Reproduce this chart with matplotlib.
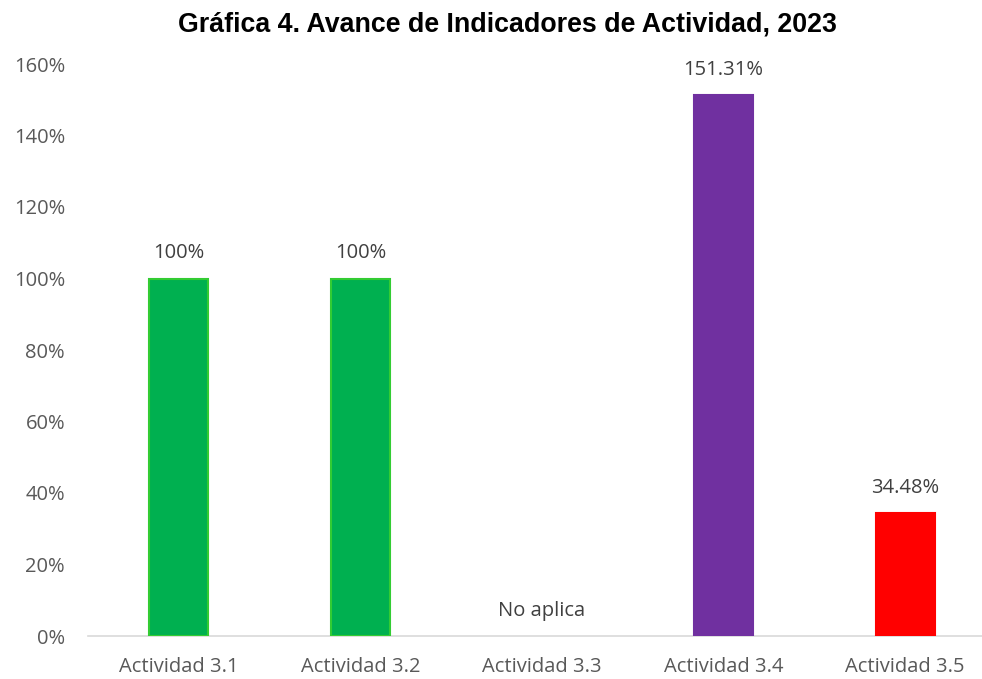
import matplotlib.pyplot as plt
from matplotlib.ticker import PercentFormatter

categories = ["Actividad 3.1", "Actividad 3.2", "Actividad 3.3", "Actividad 3.4", "Actividad 3.5"]
values = [100, 100, 0, 151.31, 34.48]
labels = ["100%", "100%", "No aplica", "151.31%", "34.48%"]
colors = ["#00b050", "#00b050", "#00b050", "#7030a0", "#ff0000"]
edges = ["#33cc33", "#33cc33", "none", "#7030a0", "#ff0000"]

plt.rcParams['font.family'] = ['Open Sans', 'DejaVu Sans']

fig = plt.figure(figsize=(9.82, 6.79), dpi=100)
ax = fig.add_axes([88 / 982, 43 / 679, 908 / 982, 572 / 679])

x = range(len(categories))
ax.bar(x, values, width=0.325, color=colors, edgecolor=edges, linewidth=1.5, zorder=3)

for i, (v, lab) in enumerate(zip(values, labels)):
    ax.text(i, v + 4.2, lab, ha="center", va="bottom", fontsize=14.5, color="#404040")

ax.set_xlim(-0.5, 4.5)
ax.set_ylim(0, 160)
ax.set_yticks(range(0, 161, 20))
ax.yaxis.set_major_formatter(PercentFormatter(decimals=0))
ax.set_xticks(list(x))
ax.set_xticklabels(categories)
ax.tick_params(axis="both", length=0, labelsize=14.5, colors="#595959")
ax.tick_params(axis="x", pad=15)
ax.tick_params(axis="y", pad=16.5)

for side in ["top", "right", "left"]:
    ax.spines[side].set_visible(False)
ax.spines["bottom"].set_color("#d9d9d9")
ax.spines["bottom"].set_linewidth(1.2)

fig.text(507 / 982, 655 / 679, "Gráfica 4. Avance de Indicadores de Actividad, 2023",
         ha="center", va="center", fontsize=19.3, fontweight="bold",
         family=["Liberation Sans", "DejaVu Sans"], color="black")

fig.savefig("out.png", dpi=100)
